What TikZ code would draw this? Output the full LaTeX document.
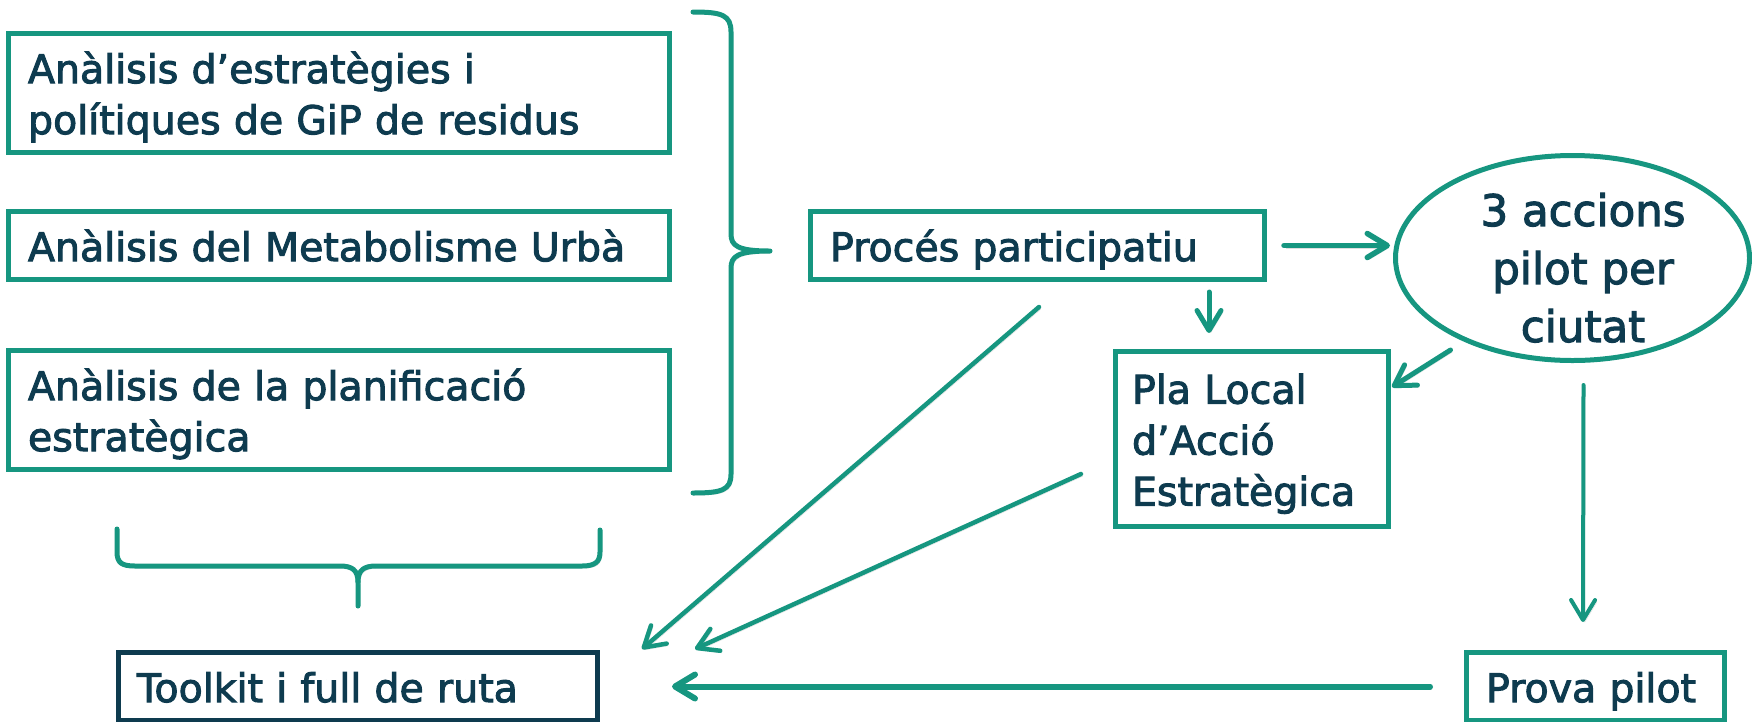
\documentclass[tikz,border=0pt]{standalone}
\usepackage{fontspec}
\setmainfont{DejaVu Sans}[FakeBold=2.5]
\usetikzlibrary{arrows.meta,shapes.geometric,calc}
\definecolor{teal1}{HTML}{169680}
\definecolor{navy1}{HTML}{0E3B4F}
\newcommand\lst{\rule[-0.21em]{0pt}{1.21em}}
\begin{document}
\begin{tikzpicture}[x=1pt,y=-1pt,
  box/.style={draw=teal1, line width=5pt, rectangle, anchor=north west,
    inner ysep=0pt, inner xsep=19.5pt, align=left, text=navy1,
    font=\fontsize{39.5}{51}\selectfont},
  shad/.style={preaction={draw=black!13, transform canvas={shift={(1.8pt,-2.2pt)}}}},
  arr/.style={draw=teal1, line cap=round, shad,
    -{Straight Barb[length=20pt,width=24pt,round]}},
  bracepath/.style={draw=teal1, line width=5pt, line cap=round, line join=round, shad}]
\useasboundingbox (0,0) rectangle (1752,721);

% left column boxes
\node[box, minimum width=661pt, minimum height=119pt, text width=622pt] (b1) at (6,31)
  {\lst Anàlisis d’estratègies i\\\lst polítiques de GiP de residus};
\node[box, minimum width=661pt, minimum height=68pt, text width=622pt] (b2) at (6,209)
  {\lst Anàlisis del Metabolisme Urbà};
\node[box, minimum width=661pt, minimum height=119pt, text width=622pt] (b3) at (6,348)
  {\lst Anàlisis de la planificació\\\lst estratègica};

% middle / right
\node[box, minimum width=454pt, minimum height=68pt, text width=415pt] (proces) at (808,209)
  {\lst Procés participatiu};
\node[box, minimum width=273pt, minimum height=175pt, text width=240pt, inner xsep=16.5pt] (pla) at (1113,349)
  {\lst Pla Local\\\lst d’Acció\\\lst Estratègica};
\node[draw=teal1, line width=5pt, ellipse, minimum width=354pt, minimum height=205pt, inner sep=0pt] (ell) at (1572.5,258) {};
\node[text=navy1, font=\fontsize{43.5}{58}\selectfont, align=center, inner sep=0pt] (elltxt) at (1583,266.8)
  {\lst 3 accions\\\lst pilot per\\\lst ciutat};

% bottom boxes
\node[box, draw=navy1, minimum width=479pt, minimum height=68pt, text width=442pt, inner xsep=18.5pt] (toolkit) at (116,650)
  {\lst Toolkit i full de ruta};
\node[box, minimum width=258pt, minimum height=68pt, text width=219pt] (prova) at (1464,650)
  {\lst Prova pilot};

% braces
\path[bracepath] (693,12) .. controls (722,12) and (731,15) .. (731,32) -- (731,234)
  .. controls (731,246) and (738,251) .. (770,251)
  .. controls (738,251) and (731,256) .. (731,268) -- (731,474)
  .. controls (731,490) and (722,493) .. (693,493);
\path[bracepath] (117,529) -- (117,552) .. controls (117,563) and (122,566) .. (135,566) -- (340,566)
  .. controls (352,566) and (358,570) .. (358,582) -- (358,606);
\path[bracepath] (358,582) .. controls (358,570) and (364,566) .. (376,566) -- (582,566)
  .. controls (595,566) and (600,562) .. (600,552) -- (600,530);

% connectors
\draw[arr, line width=5.5pt, shorten <=17pt, shorten >=3pt] (proces.east) -- (proces.east -| ell.west);
\draw[arr, line width=5pt, shorten <=10pt, shorten >=16pt] ([xshift=96pt]pla.north west |- proces.south) -- ([xshift=96pt]pla.north west);
\draw[arr, line width=5pt] ([shift={(-122,92)}]ell.center) -- ([shift={(1,38)}]pla.north east);
\draw[arr, line width=4pt] ([shift={(11,22)}]ell.south) -- ([shift={(-12.5,-28)}]prova.north);
\draw[arr, line width=6pt, shorten <=34pt, shorten >=72pt] (prova.west) -- (toolkit.east);
\draw[arr, line width=4.5pt] ([shift={(1.5,25)}]proces.south) -- ([shift={(42,-1)}]toolkit.north east);
\draw[arr, line width=4.5pt] ([shift={(-32,35)}]pla.west) -- ([shift={(95,-1)}]toolkit.north east);
\end{tikzpicture}
\end{document}
